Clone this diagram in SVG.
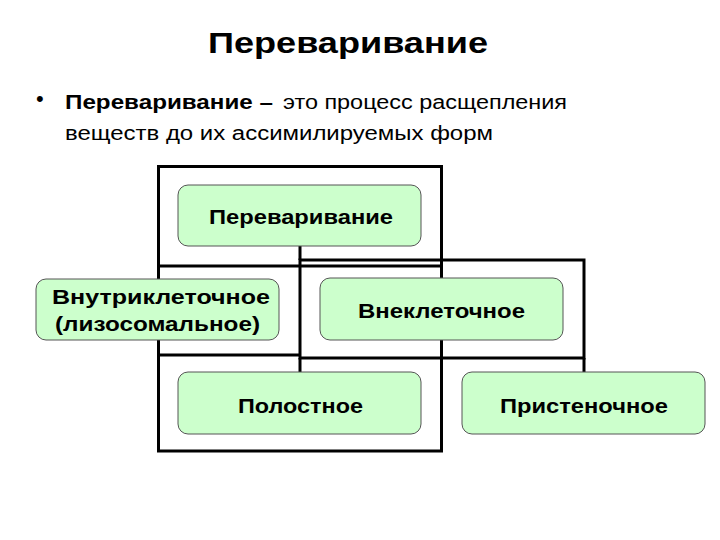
<svg xmlns="http://www.w3.org/2000/svg" width="720" height="540" viewBox="0 0 720 540">
<style>
.t{font-family:"Liberation Sans",Arial,sans-serif;fill:#000}
.b{font-weight:bold}
.box{fill:#ccffcc;stroke:#555;stroke-width:1}
.ln{stroke:#000;stroke-width:3;fill:none}
.bt{font-family:"Liberation Sans",Arial,sans-serif;font-weight:bold;font-size:21px;fill:#000}
</style>
<rect width="720" height="540" fill="#fff"/>
<text class="t b" x="208" y="53" font-size="30" textLength="280" lengthAdjust="spacingAndGlyphs">Переваривание</text>
<text class="t" x="36" y="106" font-size="22">•</text>
<text class="t b" x="65" y="109" font-size="20" textLength="208" lengthAdjust="spacingAndGlyphs">Переваривание –</text>
<text class="t" x="283" y="109" font-size="20" textLength="284" lengthAdjust="spacingAndGlyphs">это процесс расщепления</text>
<text class="t" x="65" y="140" font-size="20" textLength="428" lengthAdjust="spacingAndGlyphs">веществ до их ассимилируемых форм</text>
<g id="connectors">
<path class="ln" d="M158.5,166.5 H441.5 V266 H158.5 Z"/>
<path class="ln" d="M158.5,266 V355 H300"/>
<path class="ln" d="M441.5,266 V358"/>
<path class="ln" d="M300,260 H584 V358 H300 Z"/>
<path class="ln" d="M158.5,355 V451 H441.5 V358"/>
<path class="ln" d="M300,246 V260"/>
<path class="ln" d="M300,358 V372"/>
<path class="ln" d="M584,358 V372"/>
</g>
<g id="n1"><rect class="box" x="178" y="185" width="243" height="61" rx="10"/><text class="bt" x="209" y="224" textLength="184" lengthAdjust="spacingAndGlyphs">Переваривание</text></g>
<g id="n2"><rect class="box" x="36" y="279" width="243" height="61" rx="10"/><text class="bt" x="52" y="304" textLength="218" lengthAdjust="spacingAndGlyphs">Внутриклеточное</text><text class="bt" x="55" y="331" textLength="205" lengthAdjust="spacingAndGlyphs">(лизосомальное)</text></g>
<g id="n3"><rect class="box" x="320" y="278" width="243" height="62" rx="10"/><text class="bt" x="358" y="318" textLength="167" lengthAdjust="spacingAndGlyphs">Внеклеточное</text></g>
<g id="n4"><rect class="box" x="178" y="372" width="243" height="62" rx="10"/><text class="bt" x="238" y="413" textLength="125" lengthAdjust="spacingAndGlyphs">Полостное</text></g>
<g id="n5"><rect class="box" x="462" y="372" width="243" height="62" rx="10"/><text class="bt" x="500" y="413" textLength="168" lengthAdjust="spacingAndGlyphs">Пристеночное</text></g>
</svg>
